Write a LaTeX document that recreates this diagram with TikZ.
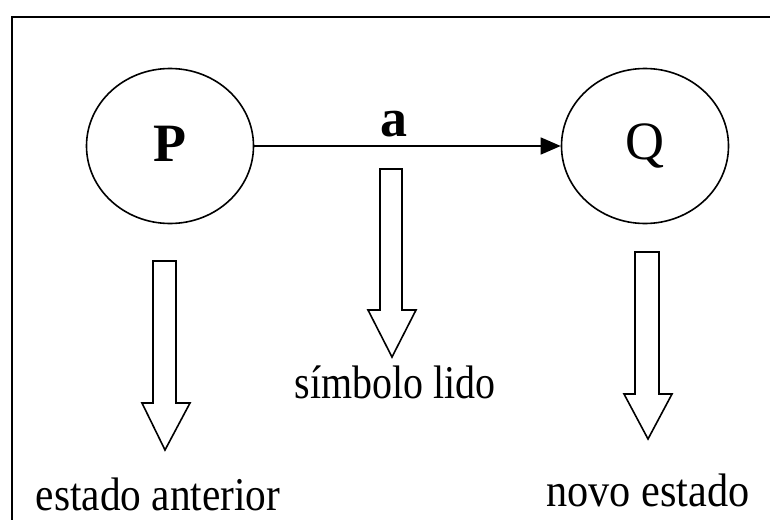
\documentclass[tikz,border=0pt]{standalone}
\usepackage{fontspec}
\setmainfont{Liberation Serif}
\usetikzlibrary{arrows.meta,shapes.geometric}
\begin{document}
\begin{tikzpicture}[x=1pt,y=-1pt,
  state/.style={draw, line width=1.6pt, ellipse, minimum width=167pt, minimum height=155pt, inner sep=0pt},
  blockarrow/.style={draw, line width=1.6pt, line join=miter, fill=white},
  statelabel/.style={font=\fontsize{54}{60}\selectfont},
  caption/.style={font=\fontsize{47}{52}\selectfont, anchor=base, inner sep=0pt}]
  \useasboundingbox (0,0) rectangle (770,519);
  % open frame: only the top and left sides lie inside the page
  \draw[line width=2.6pt] (12,530) -- (12,17) -- (780,17);

  % the two states and the transition between them
  \node[state] (P) at (170,146) {};
  \node[statelabel, font=\fontsize{54}{60}\selectfont\bfseries] at (170,144) {P};
  \node[state] (Q) at (645,146) {};
  \node[statelabel] at (645,146) {Q};
  \draw[line width=1.5pt, -{Triangle[length=20pt,width=17pt]}] (P.east) -- (Q.west);
  \node[font=\fontsize{54}{60}\selectfont\bfseries, anchor=base, inner sep=0pt] (a) at (394,136) {a};

  % hollow block arrows pointing to the captions
  \draw[blockarrow] (153,261) -- (176,261) -- (176,403) -- (190,403) -- (165,450)
                    -- (142,403) -- (153,403) -- cycle;
  \draw[blockarrow] (380,169) -- (402,169) -- (402,310) -- (416,310) -- (392,357)
                    -- (368,310) -- (380,310) -- cycle;
  \draw[blockarrow] (635,252) -- (659,252) -- (659,394) -- (672,394) -- (648,439)
                    -- (624,394) -- (635,394) -- cycle;

  % captions
  \node[caption] (ant) at (158,510) {\scalebox{0.88}[1]{estado anterior}};
  \node[caption] (sim) at (395,398) {\scalebox{0.85}[1]{símbolo lido}};
  \node[caption] (nov) at (648,506) {\scalebox{0.9}[1]{novo estado}};
\end{tikzpicture}
\end{document}
